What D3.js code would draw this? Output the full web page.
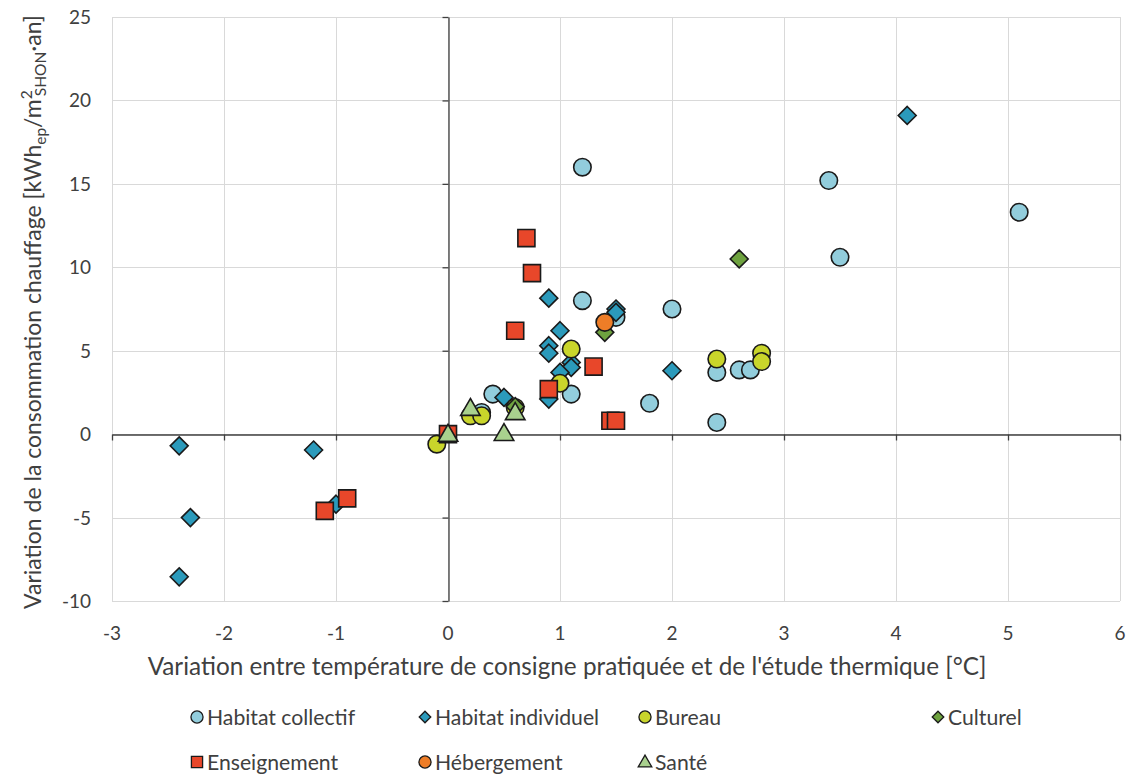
<!DOCTYPE html>
<html>
<head>
<meta charset="utf-8">
<script src="https://cdn.jsdelivr.net/npm/d3@7"></script>
<style>
  html, body { margin: 0; padding: 0; background: #ffffff; }
  svg { display: block; font-family: Lato, "Open Sans", sans-serif; }
</style>
</head>
<body>
<svg id="chart" width="1128" height="774"></svg>
<script>
// Scatter series: [temperature variation °C, heating consumption variation]
const habitatCollectif = [[1.2,16.0],[3.4,15.2],[5.1,13.3],[3.5,10.6],[1.2,8.0],[2.0,7.5],[1.5,7.0],
  [2.4,3.7],[2.6,3.85],[2.7,3.85],[1.8,1.85],[2.4,0.7],[0.4,2.4],[1.1,2.4],[0.3,1.3]];
const habitatIndividuel = [[4.1,19.1],[-2.4,-0.7],[-1.2,-0.95],[-2.3,-5.0],[-2.4,-8.55],[-1.0,-4.2],
  [0.9,8.15],[1.0,6.2],[0.9,5.3],[0.9,4.85],[1.5,7.5],[1.5,7.3],[2.0,3.8],[1.1,4.3],[1.1,4.0],
  [1.0,3.7],[0.9,2.1],[0.5,2.2]];
const bureau = [[-0.1,-0.6],[0.2,1.1],[0.3,1.1],[0.6,1.6],[1.1,5.1],[1.0,3.05],[2.4,4.5],[2.8,4.85],[2.8,4.35]];
const culturel = [[2.6,10.5],[1.4,6.1],[0.6,1.65]];
const enseignement = [[0.7,11.75],[0.75,9.65],[0.6,6.2],[0.9,2.7],[1.3,4.05],[1.45,0.8],[1.5,0.8],
  [-1.1,-4.6],[-0.9,-3.85],[0.0,0.0]];
const hebergement = [[1.4,6.7]];
const sante = [[0.0,0.0],[0.2,1.55],[0.5,0.05],[0.6,1.3]];

const seriesNames = ["Habitat collectif","Habitat individuel","Bureau","Culturel","Enseignement","Hébergement","Santé"];
const seriesData = [habitatCollectif, habitatIndividuel, bureau, culturel, enseignement, hebergement, sante];
const seriesShapes = ["circle","diamond","circle","diamond","square","circle","triangle"];
const seriesColors = ["#92CDDC","#2B9ABB","#C9D52B","#6EA23F","#E8472A","#EE7D27","#A9D18E"];

const xTicks = [-3,-2,-1,0,1,2,3,4,5,6];
const yTicks = [-10,-5,0,5,10,15,20,25];

const svg = d3.select("#chart");
const plotLeft = 112, plotRight = 1120, plotTop = 17, plotBottom = 601;

const x = d3.scaleLinear().domain([-3, 6]).range([plotLeft, plotRight]);
const y = d3.scaleLinear().domain([-10, 25]).range([plotBottom, plotTop]);

const textColor = "#404040";

// Gridlines
const grid = svg.append("g").attr("stroke", "#d9d9d9").attr("stroke-width", 1);
grid.selectAll("line.v").data(xTicks).join("line").attr("class", "v")
  .attr("x1", d => Math.round(x(d)) + 0.5).attr("x2", d => Math.round(x(d)) + 0.5)
  .attr("y1", plotTop).attr("y2", plotBottom);
grid.selectAll("line.h").data(yTicks).join("line").attr("class", "h")
  .attr("y1", d => Math.round(y(d)) + 0.5).attr("y2", d => Math.round(y(d)) + 0.5)
  .attr("x1", plotLeft).attr("x2", plotRight);

// Axes crossing at the origin
const xAxis = d3.axisBottom(x).tickValues(xTicks).tickSize(6).tickSizeOuter(0).tickFormat("");
const yAxis = d3.axisLeft(y).tickValues(yTicks).tickSize(6).tickSizeOuter(0).tickFormat("");
const gx = svg.append("g").attr("transform", `translate(0,${Math.round(y(0)) + 0.5})`).call(xAxis);
const gy = svg.append("g").attr("transform", `translate(${Math.round(x(0)) + 0.5},0)`).call(yAxis);
[gx, gy].forEach(g => {
  g.select(".domain").attr("stroke", "#404040").attr("stroke-width", 1.3);
  g.selectAll(".tick line").attr("stroke", "#404040").attr("stroke-width", 1.3);
});

// Tick labels placed along the plot edges
svg.append("g").selectAll("text").data(xTicks).join("text")
  .attr("x", d => x(d)).attr("y", plotBottom + 39)
  .attr("text-anchor", "middle").attr("font-size", 19).attr("fill", textColor)
  .text(d => d);
svg.append("g").selectAll("text").data(yTicks).join("text")
  .attr("x", plotLeft - 21).attr("y", d => y(d) + 7)
  .attr("text-anchor", "end").attr("font-size", 19).attr("fill", textColor)
  .text(d => d);

// Axis titles
svg.append("text")
  .attr("x", 567).attr("y", 675)
  .attr("text-anchor", "middle").attr("font-size", 24.3).attr("fill", textColor)
  .text("Variation entre température de consigne pratiquée et de l'étude thermique [°C]");

const yt = svg.append("text")
  .attr("transform", `translate(41,${(plotTop + plotBottom) / 2 + 3}) rotate(-90)`)
  .attr("text-anchor", "middle").attr("font-size", 23).attr("fill", textColor);
yt.append("tspan").text("Variation de la consommation chauffage [kWh");
yt.append("tspan").attr("font-size", 15.5).attr("dy", 5).text("ep");
yt.append("tspan").attr("dy", -5).text("/m");
yt.append("tspan").attr("font-size", 15.5).attr("dy", -9).text("2");
yt.append("tspan").attr("font-size", 15.5).attr("dy", 14).attr("dx", -6).text("SHON");
yt.append("tspan").attr("dy", -5).text("·an]");

// Marker shapes
function symbolFor(shape, size) {
  const t = { circle: d3.symbolCircle, diamond: d3.symbolDiamond2, square: d3.symbolSquare, triangle: d3.symbolTriangle }[shape];
  return d3.symbol().type(t).size(size)();
}
const markerSize = { circle: 240, diamond: 205, square: 290, triangle: 165 };
const legendSize = { circle: 115, diamond: 85, square: 125, triangle: 80 };

const marks = svg.append("g");
seriesData.forEach((pts, i) => {
  const shape = seriesShapes[i];
  marks.append("g").selectAll("path").data(pts).join("path")
    .attr("d", symbolFor(shape, markerSize[shape]))
    .attr("transform", d => `translate(${x(d[0])},${y(d[1]) + (shape === "triangle" ? 1.5 : 0)})`)
    .attr("fill", seriesColors[i])
    .attr("stroke", "#1a1a1a").attr("stroke-width", 1.6);
});

// Legend
const legendX = [197, 425, 645, 938];
const legendRows = [717, 762];
const legend = svg.append("g");
seriesNames.forEach((name, i) => {
  const lx = legendX[i % 4], ly = legendRows[Math.floor(i / 4)];
  const shape = seriesShapes[i];
  legend.append("path")
    .attr("d", symbolFor(shape, legendSize[shape]))
    .attr("transform", `translate(${lx},${ly + (shape === "triangle" ? 1 : 0)})`)
    .attr("fill", seriesColors[i]).attr("stroke", "#1a1a1a").attr("stroke-width", 1.3);
  legend.append("text")
    .attr("x", lx + 10).attr("y", ly + 8)
    .attr("font-size", 21.2).attr("fill", textColor)
    .text(name);
});
</script>
</body>
</html>
